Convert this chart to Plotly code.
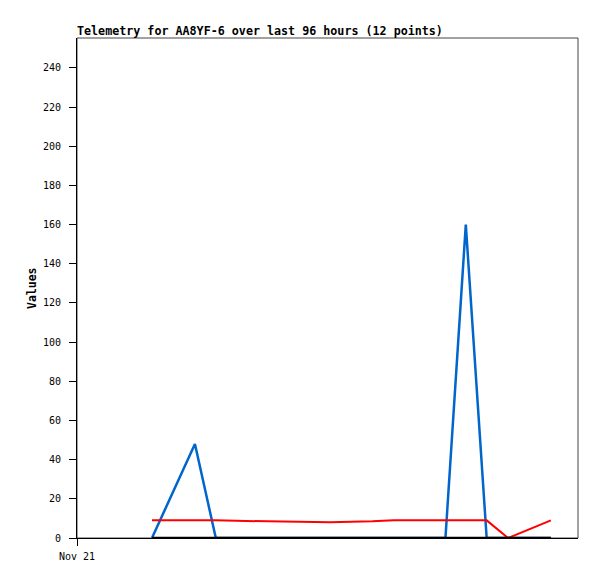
import plotly.graph_objects as go

times = ["2024-11-21 14:22", "2024-11-21 22:36", "2024-11-22 02:36", "2024-11-22 12:30",
         "2024-11-23 00:30", "2024-11-23 08:36", "2024-11-23 12:42", "2024-11-23 22:36",
         "2024-11-24 02:30", "2024-11-24 06:30", "2024-11-24 10:36", "2024-11-24 18:48"]
blue_vals = [0, 48, 0, 0, 0, 0, 0, 0, 160, 0, 0, 0]
red_vals = [9, 9, 9, 8.5, 8, 8.5, 9, 9, 9, 9, 0, 9]
black_vals = [0, 0, 0, 0, 0, 0, 0, 0, 0, 0, 0, 0]
y_ticks = [0, 20, 40, 60, 80, 100, 120, 140, 160, 180, 200, 220, 240]
x_tick_vals = ["2024-11-21 00:00"]
x_tick_text = ["Nov 21"]

# page body has an 8px margin; figure sits at (8, 8)
OFF = 8
W, H = 581, 563
L, T = 77 - OFF, 38 - OFF
R = OFF + W - 578
B = OFF + H - 538
pw = W - L - R

fig = go.Figure()
fig.add_trace(go.Scatter(x=times, y=blue_vals, mode="lines",
                         line=dict(color="#0066CC", width=2.5), showlegend=False))
fig.add_trace(go.Scatter(x=times, y=red_vals, mode="lines",
                         line=dict(color="#FF0000", width=2), showlegend=False))
fig.add_trace(go.Scatter(x=times, y=black_vals, mode="lines",
                         line=dict(color="#000000", width=2.5), showlegend=False))

mono = "DejaVu Sans Mono"
fig.update_layout(
    width=W, height=H,
    margin=dict(l=L, r=R, t=T, b=B, pad=0),
    paper_bgcolor="white", plot_bgcolor="white",
    font=dict(family=mono, size=10, color="black"),
    title=dict(text="<b>Telemetry for AA8YF-6 over last 96 hours (12 points)</b>",
               font=dict(family=mono, size=11.7, color="black"),
               x=L / W, xanchor="left", xref="container",
               y=1 - (31 - OFF) / H, yanchor="middle", yref="container"),
    xaxis=dict(type="date", range=["2024-11-21 00:00", "2024-11-25 00:00"],
               tickvals=x_tick_vals, ticktext=x_tick_text, automargin=False,
               showgrid=False, zeroline=False, showline=True, linecolor="black", linewidth=1,
               ticks="outside", ticklen=7, tickcolor="black", tickwidth=1,
               ticklabelstandoff=2,
               tickfont=dict(family=mono, size=10, color="black")),
    yaxis=dict(range=[0, 255.3], tickvals=y_ticks, automargin=False,
               showgrid=False, zeroline=False, showline=True, linecolor="black", linewidth=1,
               ticks="outside", ticklen=7, tickcolor="black", tickwidth=1,
               ticklabelstandoff=6,
               tickfont=dict(family=mono, size=10, color="black")),
    shapes=[dict(type="rect", xref="paper", yref="paper", x0=0, x1=1, y0=0, y1=1,
                 line=dict(color="#444444", width=1), layer="below")],
    annotations=[dict(text="<b>Values</b>", textangle=-90, xref="paper", yref="paper",
                      x=(32 - 77) / pw, y=0.5, xanchor="center", yanchor="middle",
                      showarrow=False, font=dict(family=mono, size=11.5, color="black"))],
)

fig.write_html("out.html")
